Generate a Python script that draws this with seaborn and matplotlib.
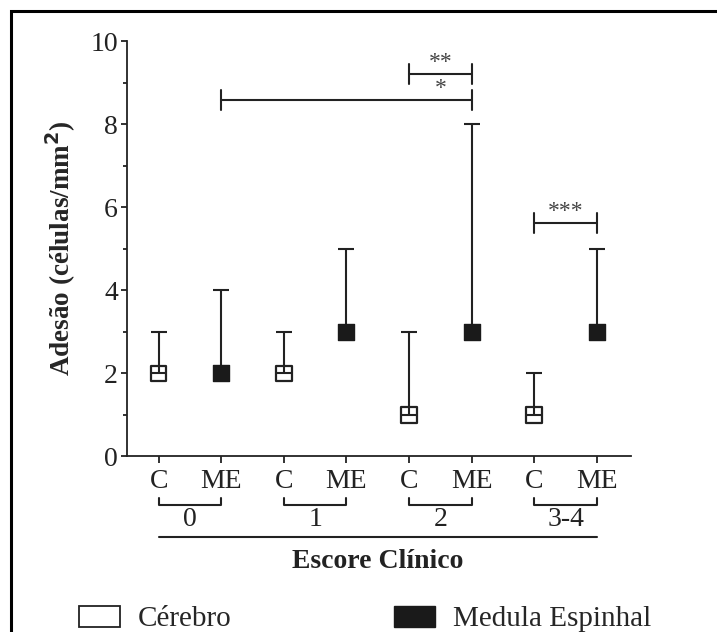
import numpy as np
import pandas as pd
import matplotlib
matplotlib.use("Agg")
import matplotlib.pyplot as plt
import matplotlib.transforms as mtransforms
from matplotlib.patches import Patch
from matplotlib.lines import Line2D
import seaborn as sns

# dados
escores = ["0", "1", "2", "3-4"]
tecidos = ["C", "ME"]
mediana_cerebro = [2, 2, 1, 1]
superior_cerebro = [3, 3, 3, 2]
mediana_medula = [2, 3, 3, 3]
superior_medula = [4, 5, 8, 5]

linhas = []
for i, esc in enumerate(escores):
    linhas.append({"pos": 2 * i, "escore": esc, "tecido": "C",
                   "mediana": mediana_cerebro[i], "superior": superior_cerebro[i]})
    linhas.append({"pos": 2 * i + 1, "escore": esc, "tecido": "ME",
                   "mediana": mediana_medula[i], "superior": superior_medula[i]})
df = pd.DataFrame(linhas)

sns.set_style("ticks")
plt.rcParams["font.family"] = ["Liberation Serif", "DejaVu Serif"]
cor = "#222222"
plt.rcParams["axes.edgecolor"] = cor
plt.rcParams["xtick.color"] = cor
plt.rcParams["ytick.color"] = cor

fig = plt.figure(figsize=(7.17, 6.32), dpi=100)
ax = fig.add_axes([0.1771, 0.2777, 0.7029, 0.6574])

# barras de erro (só o lado superior)
for tec in tecidos:
    sub = df[df["tecido"] == tec]
    ax.errorbar(sub["pos"], sub["mediana"],
                yerr=[np.zeros(len(sub)), sub["superior"] - sub["mediana"]],
                fmt="none", ecolor=cor, elinewidth=1.5, capsize=5.8, capthick=1.5, zorder=2)

sns.scatterplot(data=df[df["tecido"] == "C"], x="pos", y="mediana", marker="s", s=125,
                facecolor="none", edgecolor=cor, linewidth=1.6, ax=ax, zorder=3, legend=False)
sns.scatterplot(data=df[df["tecido"] == "ME"], x="pos", y="mediana", marker="s", s=125,
                color="#1a1a1a", edgecolor="#1a1a1a", linewidth=1.0, ax=ax, zorder=3, legend=False)

ax.set_xlim(-0.506, 7.545)
ax.set_ylim(0, 10)
ax.set_yticks(np.arange(0, 11, 2))
ax.set_yticks(np.arange(1, 10, 2), minor=True)
ax.set_xticks(df["pos"])
ax.set_xticklabels(df["tecido"])
ax.tick_params(axis="both", labelsize=20, width=1.3)
ax.tick_params(axis="y", length=4.5, pad=2)
ax.tick_params(axis="y", which="minor", length=3, width=1.3)
ax.tick_params(axis="x", length=5, pad=4)
ax.set_xlabel("")
ax.set_ylabel("Adesão (células/mm$^\\mathbf{2}$)", fontsize=19.5, fontweight="bold", labelpad=9)
sns.despine(ax=ax)
for s in ["left", "bottom"]:
    ax.spines[s].set_linewidth(1.3)

# marcas de significância
def colchete(x1, x2, y, texto, xt):
    ax.plot([x1, x2], [y, y], color=cor, lw=1.5, clip_on=False)
    for xx in (x1, x2):
        ax.plot([xx, xx], [y - 0.24, y + 0.24], color=cor, lw=1.5, clip_on=False)
    ax.text(xt, y + 0.02, texto, ha="center", va="bottom", fontsize=17, color="#444444")

colchete(4, 5, 9.2, "**", 4.5)
colchete(1, 5, 8.58, "*", 4.5)
colchete(6, 7, 5.63, "***", 6.5)

# grupos do escore clínico abaixo do eixo
trans = mtransforms.blended_transform_factory(ax.transData, ax.transAxes)
for i, esc in enumerate(escores):
    x1, x2 = 2 * i, 2 * i + 1
    ax.plot([x1, x1, x2, x2], [-0.100, -0.117, -0.117, -0.100], color=cor, lw=1.5,
            transform=trans, clip_on=False)
    ax.text((x1 + x2) / 2, -0.152, esc, ha="center", va="center", fontsize=20,
            color=cor, transform=trans)
ax.plot([0, 7], [-0.193, -0.193], color=cor, lw=1.5, transform=trans, clip_on=False)
ax.text(3.5, -0.253, "Escore Clínico", ha="center", va="center", fontsize=20,
        fontweight="bold", color=cor, transform=trans)

# legenda
alcas = [Patch(facecolor="white", edgecolor=cor, linewidth=1.3, label="Cérebro"),
         Patch(facecolor="#1a1a1a", edgecolor="#1a1a1a", label="Medula Espinhal")]
fig.legend(handles=alcas, loc="center left", bbox_to_anchor=(79 / 717, 0.0206),
           ncol=2, frameon=False, fontsize=21, handlelength=1.4, handleheight=0.75,
           handletextpad=0.6, columnspacing=5.6, borderpad=0, borderaxespad=0)

# moldura (só aparecem os lados esquerdo e superior)
xm, ym = 10.5 / 717, 1 - 10.5 / 632
fig.add_artist(Line2D([xm, xm, 1.0], [0.0, ym, ym], transform=fig.transFigure,
                      color="black", lw=2.2, solid_joinstyle="miter"))

fig.savefig("out.png", dpi=100)
